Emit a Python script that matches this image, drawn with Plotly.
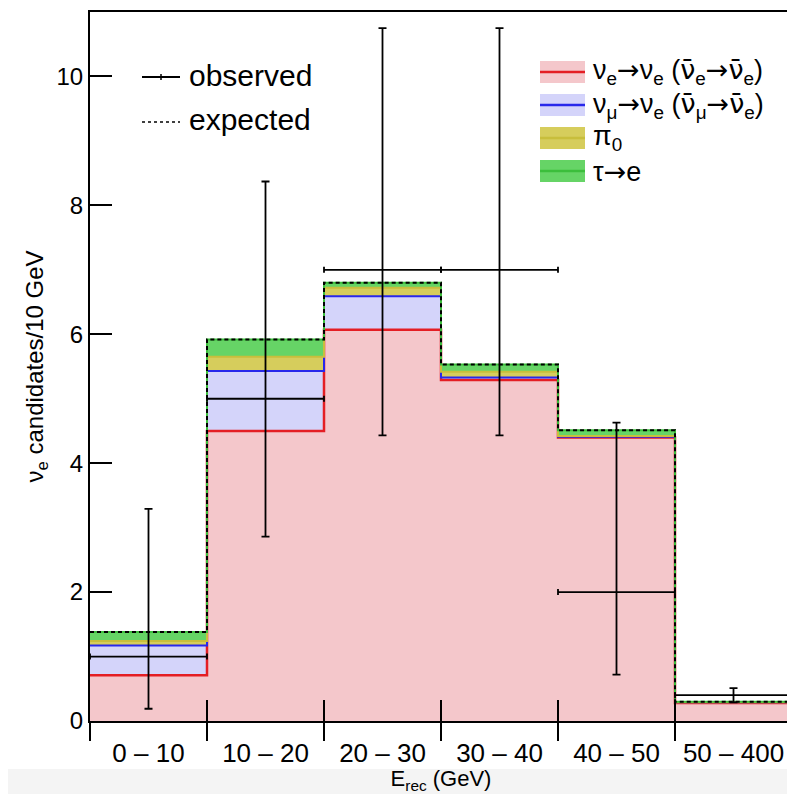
import plotly.graph_objects as go

# ---------------- data ----------------
bin_labels = ["0 – 10", "10 – 20", "20 – 30", "30 – 40", "40 – 50", "50 – 400"]
bin_edges = [0, 1, 2, 3, 4, 5, 6]
bin_centers = [0.5, 1.5, 2.5, 3.5, 4.5, 5.5]

# expected components (stacked), candidates / 10 GeV
nue_nue = [0.71, 4.50, 6.07, 5.29, 4.40, 0.28]
numu_nue = [0.46, 0.93, 0.52, 0.04, 0.01, 0.01]
pi0 = [0.07, 0.22, 0.13, 0.09, 0.01, 0.00]
tau_e = [0.14, 0.27, 0.08, 0.11, 0.09, 0.01]

# observed
observed = [1.0, 5.0, 7.0, 7.0, 2.0, 0.40]
obs_err_low = [0.81, 2.14, 2.57, 2.57, 1.28, 0.11]
obs_err_high = [2.29, 3.37, 3.75, 3.75, 2.63, 0.11]
obs_half_width = [0.5, 0.5, 0.5, 0.5, 0.5, 0.5]

# ---------------- helpers ----------------
def cumulate(*comps):
    out = []
    run = [0.0] * len(comps[0])
    for c in comps:
        run = [r + v for r, v in zip(run, c)]
        out.append(run)
    return out

lvl_red, lvl_blue, lvl_yel, lvl_grn = cumulate(nue_nue, numu_nue, pi0, tau_e)

def step(vals):
    return list(vals) + [vals[-1]]

fig = go.Figure()

fills = [
    (lvl_red, "rgba(244,199,203,1)", "rgb(228,30,36)", 2.5, "tozeroy"),
    (lvl_blue, "rgba(212,212,250,1)", "rgb(40,40,235)", 2.0, "tonexty"),
    (lvl_yel, "rgba(214,205,92,1)", "rgb(200,190,60)", 2.0, "tonexty"),
    (lvl_grn, "rgba(102,212,102,1)", "rgb(60,190,60)", 2.0, "tonexty"),
]
for lvl, fc, lc, lw, fmode in fills:
    fig.add_trace(go.Scatter(
        x=bin_edges, y=step(lvl), mode="lines", line=dict(shape="hv", color=lc, width=lw),
        fill=fmode, fillcolor=fc, showlegend=False, hoverinfo="skip"))

# expected total (dashed)
fig.add_trace(go.Scatter(
    x=bin_edges, y=step(lvl_grn), mode="lines",
    line=dict(shape="hv", color="black", width=2, dash="4px,3px"),
    showlegend=False, hoverinfo="skip"))

# observed with error bars
fig.add_trace(go.Scatter(
    x=bin_centers, y=observed, mode="markers", marker=dict(size=1, color="black"),
    error_x=dict(type="data", array=obs_half_width, color="black", thickness=1.8, width=3),
    error_y=dict(type="data", symmetric=False, array=obs_err_high, arrayminus=obs_err_low,
                 color="black", thickness=1.8, width=4),
    showlegend=False))

# dummy traces to carry the extra tick axes
for ax in ("x2", "x3"):
    fig.add_trace(go.Scatter(x=[bin_edges[0], bin_edges[-1]], y=[None, None], xaxis=ax,
                             mode="lines", showlegend=False, hoverinfo="skip"))

# ---------------- layout ----------------
OFF = 8  # page body margin
PL, PR, PT, PB = 90, 792, 12, 721   # plot area in page pixels
PW, PH = 795, 794
W, H = PW - OFF, PH - OFF

def pxp(x):
    return (x - PL) / (PR - PL)

def pyp(y):
    return (PB - y) / (PB - PT)

font_family = "Liberation Sans, Arial, sans-serif"
sym = "font-family:'DejaVu Sans'"

def nubar(sub):
    return f"<span style=\"{sym}\">ν\u0304</span><sub>{sub}</sub>"

def nu(sub):
    return f"ν<sub>{sub}</sub>"

arrow = f"<span style=\"{sym}\">→</span>"

shapes = []
annotations = []

# right legend
leg_rows = [
    (f"{nu('e')}{arrow}{nu('e')} ({nubar('e')}{arrow}{nubar('e')})", "rgb(244,199,203)", "rgb(228,30,36)"),
    (f"{nu('μ')}{arrow}{nu('e')} ({nubar('μ')}{arrow}{nubar('e')})", "rgb(212,212,250)", "rgb(40,40,235)"),
    ("π<sub>0</sub>", "rgb(214,205,92)", "rgb(200,190,60)"),
    (f"τ{arrow}e", "rgb(102,212,102)", "rgb(60,190,60)"),
]
row_y = [72, 105, 138, 171]
for (txt, fc, lc), yy in zip(leg_rows, row_y):
    shapes.append(dict(type="rect", xref="paper", yref="paper",
                       x0=pxp(540), x1=pxp(585), y0=pyp(yy + 11), y1=pyp(yy - 11),
                       fillcolor=fc, line=dict(width=0)))
    shapes.append(dict(type="line", xref="paper", yref="paper",
                       x0=pxp(540), x1=pxp(585), y0=pyp(yy), y1=pyp(yy),
                       line=dict(color=lc, width=2.5)))
    annotations.append(dict(xref="paper", yref="paper", x=pxp(591), y=pyp(yy),
                            xanchor="left", yanchor="middle", text=txt, showarrow=False,
                            font=dict(family=font_family, size=27, color="black")))

# left legend
shapes.append(dict(type="line", xref="paper", yref="paper", x0=pxp(142), x1=pxp(180),
                   y0=pyp(77), y1=pyp(77), line=dict(color="black", width=2)))
shapes.append(dict(type="line", xref="paper", yref="paper", x0=pxp(161), x1=pxp(161),
                   y0=pyp(74), y1=pyp(80), line=dict(color="black", width=1.5)))
shapes.append(dict(type="line", xref="paper", yref="paper", x0=pxp(142), x1=pxp(180),
                   y0=pyp(122), y1=pyp(122), line=dict(color="black", width=1.5, dash="dot")))
annotations.append(dict(xref="paper", yref="paper", x=pxp(187), y=pyp(76), xanchor="left",
                        yanchor="middle", text="observed", showarrow=False,
                        font=dict(family=font_family, size=30, color="black")))
annotations.append(dict(xref="paper", yref="paper", x=pxp(187), y=pyp(120), xanchor="left",
                        yanchor="middle", text="expected", showarrow=False,
                        font=dict(family=font_family, size=30, color="black")))

# light band at the bottom of the picture
shapes.append(dict(type="rect", xref="paper", yref="paper", x0=pxp(0), x1=pxp(PW),
                   y0=pyp(PH), y1=pyp(769), fillcolor="#f4f4f4", line=dict(width=0),
                   layer="below"))

fig.update_layout(
    width=W, height=H,
    margin=dict(l=PL - OFF, r=PW - PR, t=PT - OFF, b=PH - PB, autoexpand=False),
    paper_bgcolor="white", plot_bgcolor="white",
    font=dict(family=font_family, size=24, color="black"),
    showlegend=False,
    shapes=shapes, annotations=annotations,
    xaxis=dict(range=[0, 6], tickmode="array", tickvals=bin_centers, ticktext=bin_labels,
               ticks="", showgrid=False, zeroline=False, showline=True, mirror=True,
               linecolor="black", linewidth=2, ticklabelstandoff=8,
               tickfont=dict(size=26),
               title=dict(text="E<sub>rec</sub> (GeV)", font=dict(size=22), standoff=13)),
    xaxis2=dict(range=[0, 6], overlaying="x", anchor="y", side="bottom", tickmode="array",
                tickvals=bin_edges, ticks="outside", ticklen=19, tickwidth=2, tickcolor="black",
                showticklabels=False, showgrid=False, zeroline=False, showline=False),
    xaxis3=dict(range=[0, 6], overlaying="x", anchor="y", side="bottom", tickmode="array",
                tickvals=bin_edges, ticks="inside", ticklen=21, tickwidth=2, tickcolor="black",
                showticklabels=False, showgrid=False, zeroline=False, showline=False),
    yaxis=dict(range=[0, 11], tickmode="array", tickvals=[0, 2, 4, 6, 8, 10],
               ticks="inside", ticklen=22, tickwidth=2, tickcolor="black",
               showgrid=False, zeroline=False, showline=True, mirror=True,
               linecolor="black", linewidth=2, tickfont=dict(size=24),
               title=dict(text="ν<sub>e</sub> candidates/10 GeV", font=dict(size=24), standoff=6)),
)

fig.write_html("out.html")
